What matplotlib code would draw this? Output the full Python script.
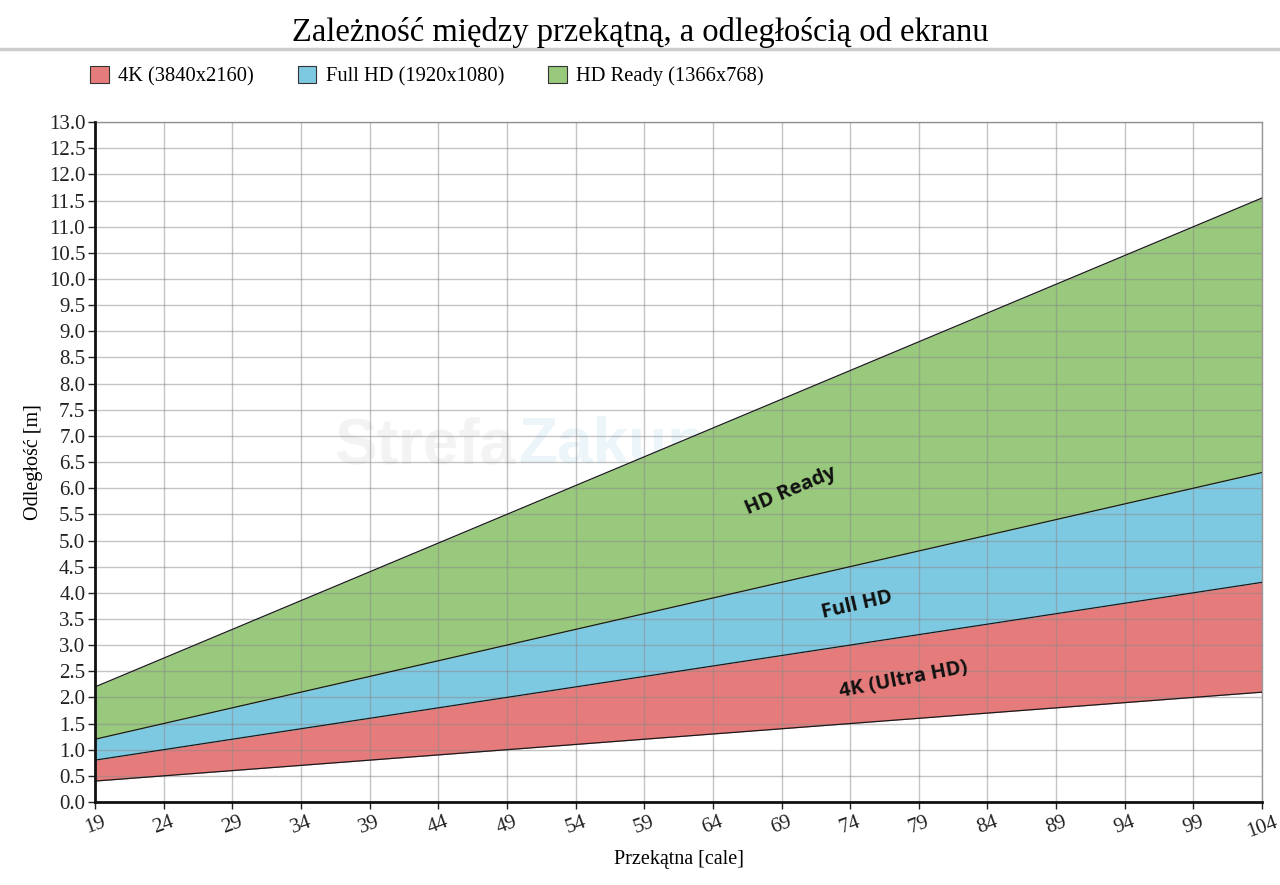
"""
Zależność między przekątną a odległością od ekranu - stacked bands chart.
"""
import matplotlib
matplotlib.use('Agg')
import matplotlib.pyplot as plt
from matplotlib.patches import Patch

# przekątna [cale]
diagonal = [19, 24, 29, 34, 39, 44, 49, 54, 59, 64, 69, 74, 79, 84, 89, 94, 99, 104]

# boundaries of the bands [m]
k4_low = [0.4, 0.5, 0.6, 0.7, 0.8, 0.9, 1.0, 1.1, 1.2, 1.3, 1.4, 1.5, 1.6, 1.7, 1.8, 1.9, 2.0, 2.1]
k4_high = [0.8, 1.0, 1.2, 1.4, 1.6, 1.8, 2.0, 2.2, 2.4, 2.6, 2.8, 3.0, 3.2, 3.4, 3.6, 3.8, 4.0, 4.2]
fhd_high = [1.2, 1.5, 1.8, 2.1, 2.4, 2.7, 3.0, 3.3, 3.6, 3.9, 4.2, 4.5, 4.8, 5.1, 5.4, 5.7, 6.0, 6.3]
hdr_high = [2.2, 2.75, 3.3, 3.85, 4.4, 4.95, 5.5, 6.05, 6.6, 7.15, 7.7, 8.25, 8.8, 9.35,
            9.9, 10.45, 11.0, 11.55]

series_names = ['4K (3840x2160)', 'Full HD (1920x1080)', 'HD Ready (1366x768)']
band_labels = ['4K (Ultra HD)', 'Full HD', 'HD Ready']
colors = ['#e57b7b', '#7ec9e2', '#98c97c']

SERIF = ['Liberation Serif', 'DejaVu Serif']

fig = plt.figure(figsize=(12.8, 8.85), dpi=100)
ax = fig.add_axes([0.0742, 0.0938, 0.9118, 0.7682])

bands = [(k4_low, k4_high), (k4_high, fhd_high), (fhd_high, hdr_high)]
for (lo, hi), c in zip(bands, colors):
    ax.fill_between(diagonal, lo, hi, color=c, lw=0, zorder=1)
for line in [k4_low, k4_high, fhd_high, hdr_high]:
    ax.plot(diagonal, line, color='#1a1a1a', lw=0.9, zorder=3)

# faint watermark
ax.text(49.6, 6.8, 'Strefa', ha='right', va='center', fontsize=46, fontweight='bold',
        family='Liberation Sans', color='#a8a8a8', alpha=0.13, zorder=0.5)
ax.text(49.8, 6.8, 'Zakupowa', ha='left', va='center', fontsize=46, fontweight='bold',
        family='Liberation Sans', color='#4aa8d8', alpha=0.11, zorder=0.5)

# band labels
ax.text(69.7, 5.95, band_labels[2], rotation=23, ha='center', va='center',
        fontsize=14.5, fontweight='bold', family='Open Sans', color='#111111', zorder=4)
ax.text(74.5, 3.77, band_labels[1], rotation=13, ha='center', va='center',
        fontsize=14.5, fontweight='bold', family='Open Sans', color='#111111', zorder=4)
ax.text(77.9, 2.33, band_labels[0], rotation=11, ha='center', va='center',
        fontsize=14.5, fontweight='bold', family='Open Sans', color='#111111', zorder=4)

ax.set_xlim(19, 104)
ax.set_ylim(0, 13)
ax.set_xticks(diagonal)
ax.set_yticks([i * 0.5 for i in range(27)])
ax.set_yticklabels([f'{i * 0.5:.1f}' for i in range(27)])
ax.set_xticklabels([str(d) for d in diagonal], rotation=20)
for lbl in ax.get_xticklabels() + ax.get_yticklabels():
    lbl.set_family(SERIF)
    lbl.set_fontsize(15)
ax.tick_params(axis='both', length=5, width=1, colors='#222222', pad=2)
ax.tick_params(axis='x', pad=3)

ax.grid(True, color='#8a8a8a', alpha=0.5, lw=1, zorder=2)
ax.set_axisbelow(False)
for side in ['top', 'right']:
    ax.spines[side].set_color('#999999')
    ax.spines[side].set_linewidth(1)
for side in ['left', 'bottom']:
    ax.spines[side].set_color('#111111')
    ax.spines[side].set_linewidth(2)
    ax.spines[side].set_zorder(5)

ax.set_xlabel('Przekątna [cale]', family=SERIF, fontsize=14.5, labelpad=6)
ax.set_ylabel('Odległość [m]', family=SERIF, fontsize=14.5, labelpad=4)

fig.text(0.5, 0.963, 'Zależność między przekątną, a odległością od ekranu', ha='center',
         va='center', family=SERIF, fontsize=23.5)
fig.add_artist(plt.Line2D([0, 1], [0.945, 0.945], transform=fig.transFigure,
                          color='#cccccc', lw=2.5))

handles = [Patch(facecolor=c, edgecolor='#333333', lw=0.8) for c in colors]
fig.legend(handles, series_names, loc='center left', bbox_to_anchor=(0.056, 0.914), ncol=3,
           frameon=False, prop={'family': SERIF, 'size': 14.8}, handlelength=0.9,
           handleheight=0.9, handletextpad=0.45, columnspacing=2.15)

fig.savefig('out.png', dpi=100)
plt.close()
